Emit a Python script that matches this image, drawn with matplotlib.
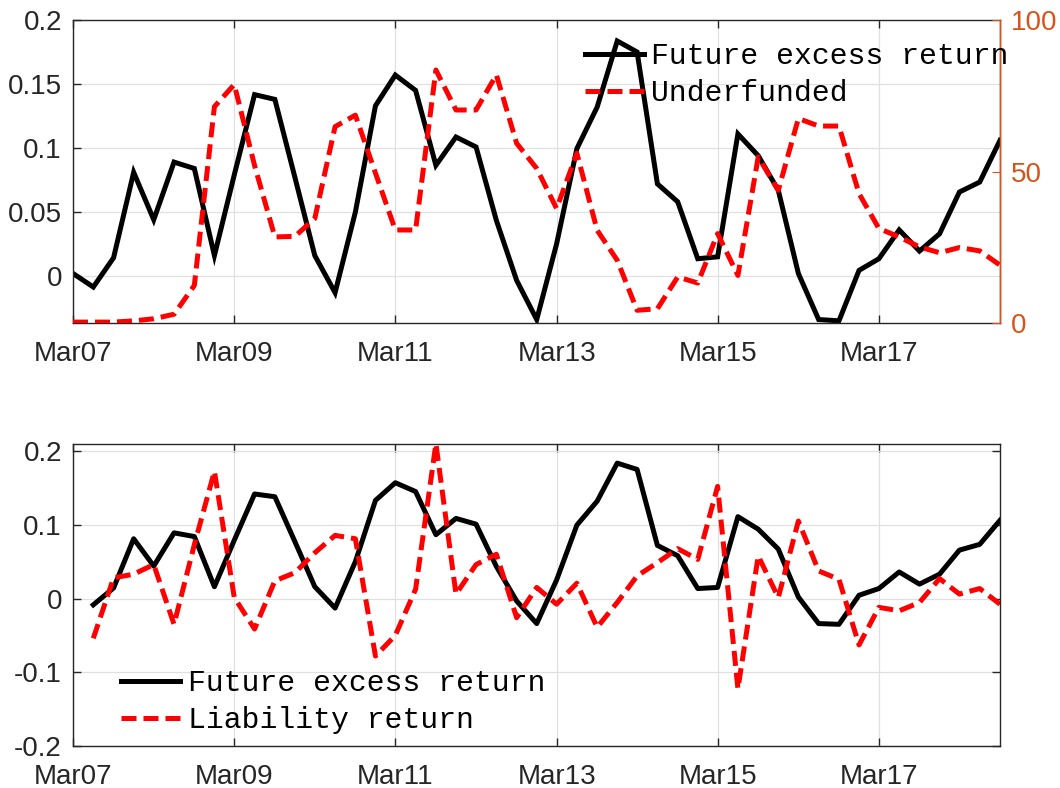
import matplotlib
matplotlib.use("Agg")
import matplotlib.pyplot as plt
import matplotlib.dates as mdates
import pandas as pd
import numpy as np

# %% data (quarterly, Mar07 .. Sep18)
dates = pd.date_range("2007-03-01", periods=47, freq="3MS")

future_excess = [0.002, -0.0086, 0.0143, 0.081, 0.044, 0.089, 0.084, 0.016,
                 0.079, 0.1417, 0.138, 0.077, 0.016, -0.013, 0.05, 0.133,
                 0.157, 0.145, 0.0865, 0.1086, 0.1008, 0.0435, -0.0034, -0.034,
                 0.025, 0.0995, 0.132, 0.1836, 0.175, 0.072, 0.058, 0.0135,
                 0.015, 0.111, 0.094, 0.067, 0.002, -0.034, -0.035, 0.0044,
                 0.0135, 0.036, 0.0195, 0.033, 0.0656, 0.0734, 0.106]

underfunded = [0.3, 0.3, 0.3, 0.7, 1.4, 2.9, 12.4, 71.4,
               78.7, 52.0, 28.4, 28.6, 34.5, 64.8, 68.6, 49.5,
               30.7, 30.7, 83.5, 70.3, 70.3, 81.9, 59.3, 51.0,
               37.8, 56.0, 30.6, 20.7, 4.2, 4.7, 15.2, 13.2,
               29.5, 15.7, 54.8, 43.8, 67.5, 65.0, 65.0, 42.7,
               31.2, 28.4, 25.1, 23.2, 24.9, 23.8, 19.1]

# liability return starts one quarter later (no value for Mar07)
liability = [np.nan, -0.054, 0.028, 0.033, 0.046, -0.035, 0.073, 0.1725,
             0.0014, -0.0414, 0.024, 0.035, 0.062, 0.0856, 0.081, -0.078,
             -0.050, 0.0126, 0.21, 0.006, 0.046, 0.060, -0.026, 0.015,
             -0.0077, 0.0207, -0.039, -0.0054, 0.0306, 0.0486, 0.0676, 0.053,
             0.152, -0.1225, 0.0577, 0.0014, 0.105, 0.0374, 0.026, -0.063,
             -0.012, -0.0167, -0.0054, 0.027, 0.006, 0.0135, -0.0077]

tick_dates = dates[::8]

# %% style
ax_col = (0.15, 0.15, 0.15)
orange = (0.85, 0.325, 0.098)
tick_font = "Liberation Sans"
leg_font = {"family": "Liberation Mono", "size": 21.4}
lw = 3.6
red_ls = (0, (3, 1.4))

plt.rcParams["font.family"] = tick_font
plt.rcParams["font.size"] = 20

W, H = 1060, 788
fig = plt.figure(figsize=(W / 100, H / 100), dpi=100)
ax1 = fig.add_axes([73 / W, 1 - 323 / H, 927 / W, 303 / H])
ax3 = fig.add_axes([73 / W, 1 - 746 / H, 927 / W, 302 / H])


def style_axis(ax):
    ax.grid(True, color=(0.88, 0.88, 0.88), lw=0.9)
    ax.set_axisbelow(True)
    for s in ax.spines.values():
        s.set_color(ax_col)
        s.set_linewidth(1.0)
    ax.tick_params(direction="in", length=6, width=1.0, colors=ax_col,
                   labelcolor=ax_col, top=True, pad=8)
    ax.tick_params(axis="x", pad=13)
    ax.xaxis.set_major_formatter(mdates.DateFormatter("%b%y"))
    ax.set_xticks(tick_dates)
    ax.set_xlim(dates[0], dates[-1])


# %% top panel
style_axis(ax1)
ax1.tick_params(axis="y", right=False)
h1, = ax1.plot(dates, future_excess, color="k", lw=lw, solid_joinstyle="miter",
               label="Future excess return")
ax1.set_ylim(-0.0367, 0.2)
ax1.set_yticks([0, 0.05, 0.1, 0.15, 0.2])
ax1.set_yticklabels(["0", "0.05", "0.1", "0.15", "0.2"])

ax2 = ax1.twinx()
h2, = ax2.plot(dates, underfunded, color="r", lw=lw, linestyle=red_ls,
               label="Underfunded")
ax2.set_ylim(0, 100)
ax2.set_yticks([0, 50, 100])
ax2.spines["right"].set_color(orange)
ax2.spines["right"].set_linewidth(1.0)
for k in ["left", "top", "bottom"]:
    ax2.spines[k].set_visible(False)
ax2.tick_params(axis="y", direction="in", length=6, colors=orange,
                labelcolor=orange, pad=8)
ax2.set_xlim(dates[0], dates[-1])

ax2.legend(handles=[h1, h2], loc="upper left", bbox_to_anchor=(0.539, 0.965),
           frameon=False, prop=leg_font, handlelength=2.0, handletextpad=0.25,
           labelspacing=0.3, borderaxespad=0)

# %% bottom panel
style_axis(ax3)
ax3.tick_params(axis="y", right=True)
ax3.plot(dates[1:], future_excess[1:], color="k", lw=lw,
         label="Future excess return")
ax3.plot(dates, liability, color="r", lw=lw, linestyle=red_ls,
         label="Liability return")
ax3.set_ylim(-0.2, 0.2095)
ax3.set_yticks([-0.2, -0.1, 0, 0.1, 0.2])
ax3.set_yticklabels(["-0.2", "-0.1", "0", "0.1", "0.2"])
ax3.legend(loc="lower left", bbox_to_anchor=(0.039, 0.0), frameon=False,
           prop=leg_font, handlelength=2.0, handletextpad=0.25,
           labelspacing=0.3, borderaxespad=0)

fig.savefig("out.png", dpi=100)
